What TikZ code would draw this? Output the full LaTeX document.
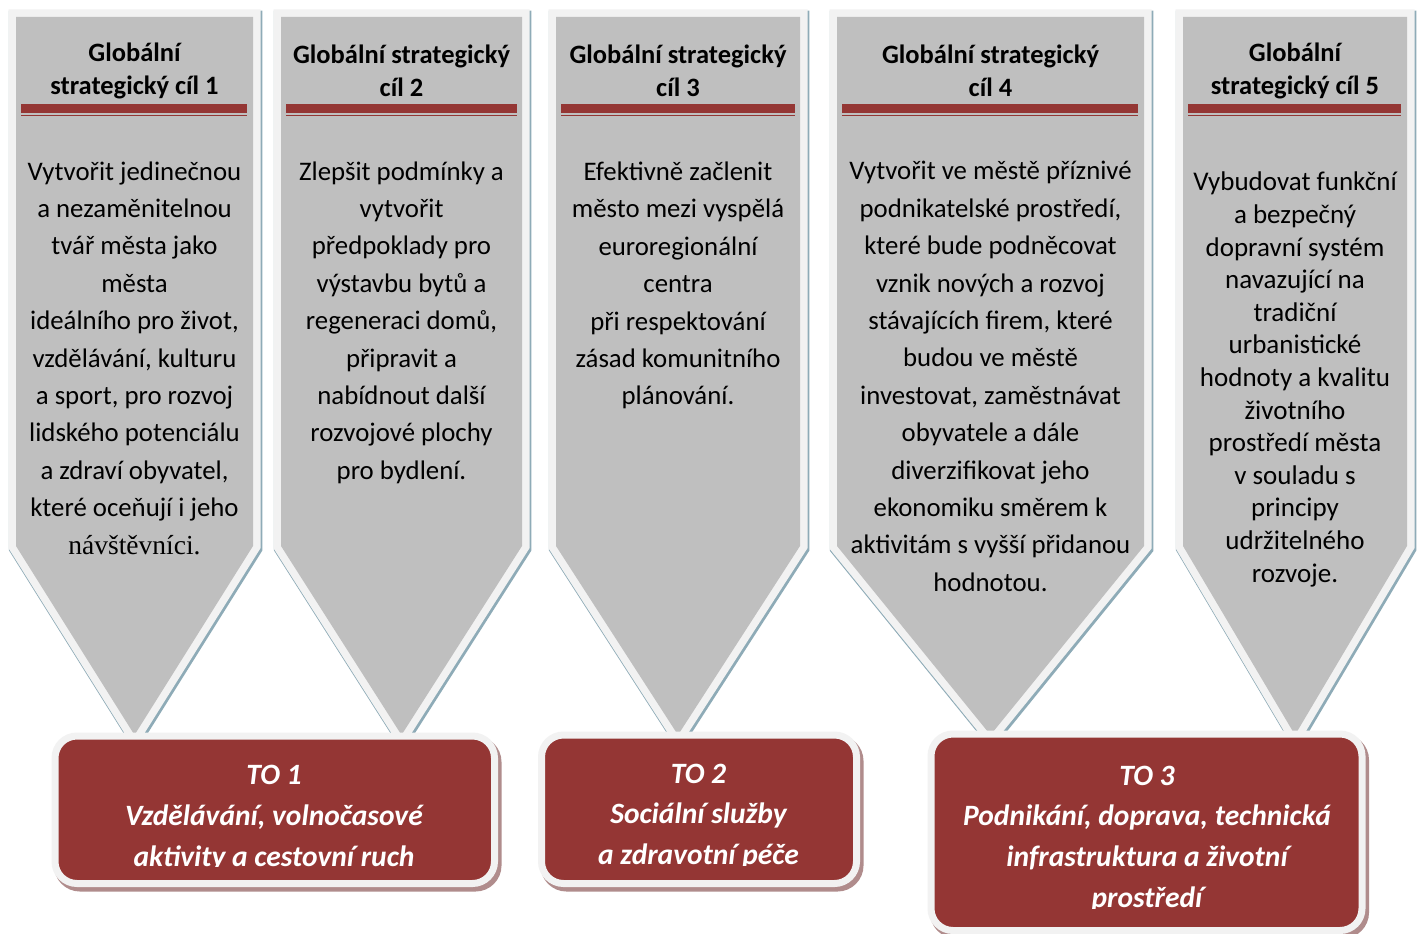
\documentclass[tikz,border=0pt]{standalone}
\usepackage{fontspec}
\setmainfont{Carlito}
\newfontfamily\serifcam{Liberation Serif}
\definecolor{redc}{HTML}{943634}
\definecolor{grayfill}{HTML}{BFBFBF}
\definecolor{rim}{HTML}{F2F2F2}
\definecolor{shadowblue}{HTML}{8EABB7}
\definecolor{shadowred}{HTML}{B08C8C}
\tikzset{
  goalshadow/.style={draw=shadowblue, line width=16.5pt, line join=miter, miter limit=20},
  goalrim/.style={draw=rim, line width=15pt, line join=miter, miter limit=20},
  goalfill/.style={fill=grayfill},
  titlebar/.style={fill=redc},
  titlethin/.style={draw=redc, line width=1.6pt},
  titletext/.style={align=center, inner sep=0pt, font=\fontsize{26.5}{33}\selectfont\bfseries},
  bodytext/.style={align=center, inner sep=0pt, font=\fontsize{26.8}{37.4}\selectfont},
  bodytextb/.style={align=center, inner sep=0pt, font=\fontsize{27}{32.6}\selectfont},
  toshadow/.style={draw=shadowred, line width=8pt, rounded corners=22pt},
  tobox/.style={draw=rim, line width=7pt, fill=redc, rounded corners=22pt},
  totext/.style={align=center, inner sep=0pt, text=white, font=\fontsize{29.5}{40.8}\selectfont\bfseries\itshape},
}
\begin{document}
\begin{tikzpicture}[x=1pt,y=-1pt]
\useasboundingbox (0,0) rectangle (1422,934);
\fill[white] (0,0) rectangle (1422,934);

% ---- goal shapes: L, R, shoulder 546, tip 735
% shape 1
\draw[goalshadow, shift={(1.2,2)}] (16,17) -- (253,17) -- (253,546) -- (134.5,735) -- (16,546) -- cycle;
\draw[goalrim] (16,17) -- (253,17) -- (253,546) -- (134.5,735) -- (16,546) -- cycle;
\fill[goalfill] (16,17) -- (253,17) -- (253,546) -- (134.5,735) -- (16,546) -- cycle;
% shape 2
\draw[goalshadow, shift={(1.2,2)}] (281,17) -- (522,17) -- (522,546) -- (401.5,735) -- (281,546) -- cycle;
\draw[goalrim] (281,17) -- (522,17) -- (522,546) -- (401.5,735) -- (281,546) -- cycle;
\fill[goalfill] (281,17) -- (522,17) -- (522,546) -- (401.5,735) -- (281,546) -- cycle;
% shape 3
\draw[goalshadow, shift={(1.2,2)}] (556,17) -- (800,17) -- (800,546) -- (678,735) -- (556,546) -- cycle;
\draw[goalrim] (556,17) -- (800,17) -- (800,546) -- (678,735) -- (556,546) -- cycle;
\fill[goalfill] (556,17) -- (800,17) -- (800,546) -- (678,735) -- (556,546) -- cycle;
% shape 4
\draw[goalshadow, shift={(1.2,2)}] (837,17) -- (1144,17) -- (1144,546) -- (990.5,735) -- (837,546) -- cycle;
\draw[goalrim] (837,17) -- (1144,17) -- (1144,546) -- (990.5,735) -- (837,546) -- cycle;
\fill[goalfill] (837,17) -- (1144,17) -- (1144,546) -- (990.5,735) -- (837,546) -- cycle;
% shape 5
\draw[goalshadow, shift={(1.2,2)}] (1183,17) -- (1407,17) -- (1407,546) -- (1295,735) -- (1183,546) -- cycle;
\draw[goalrim] (1183,17) -- (1407,17) -- (1407,546) -- (1295,735) -- (1183,546) -- cycle;
\fill[goalfill] (1183,17) -- (1407,17) -- (1407,546) -- (1295,735) -- (1183,546) -- cycle;

% ---- title bars
\fill[titlebar] (21,104) rectangle (247,112.5);
\draw[titlethin] (21,115.5) -- (247,115.5);
\fill[titlebar] (286,104) rectangle (517,112.5);
\draw[titlethin] (286,115.5) -- (517,115.5);
\fill[titlebar] (561,104) rectangle (795,112.5);
\draw[titlethin] (561,115.5) -- (795,115.5);
\fill[titlebar] (842,104) rectangle (1138,112.5);
\draw[titlethin] (842,115.5) -- (1138,115.5);
\fill[titlebar] (1188,104) rectangle (1401,112.5);
\draw[titlethin] (1188,115.5) -- (1401,115.5);

% ---- titles
\node[titletext] (t1) at (134.5,70.5) {Globální\\strategický cíl 1};
\node[titletext] (t2) at (401.5,70.5) {Globální strategický\\cíl 2};
\node[titletext] (t3) at (678,70.5) {Globální strategický\\cíl 3};
\node[titletext] (t4) at (990.5,70.5) {Globální strategický\\cíl 4};
\node[titletext] (t5) at (1295,70.5) {Globální\\strategický cíl 5};

% ---- bodies
\node[bodytext] (b1) at (134.5,358) {Vytvořit jedinečnou\\a nezaměnitelnou\\tvář města jako\\města\\ideálního pro život,\\vzdělávání, kulturu\\a sport, pro rozvoj\\lidského potenciálu\\a zdraví obyvatel,\\které oceňují i jeho\\{\serifcam\fontsize{27.5}{37.4}\selectfont návštěvníci.}};
\node[bodytext] (b2) at (401.5,322.5) {Zlepšit podmínky a\\vytvořit\\předpoklady pro\\výstavbu bytů a\\regeneraci domů,\\připravit a\\nabídnout další\\rozvojové plochy\\pro bydlení.};
\node[bodytext] (b3) at (678,285.5) {Efektivně začlenit\\město mezi vyspělá\\euroregionální\\centra\\při respektování\\zásad komunitního\\plánování.};
\node[bodytext] (b4) at (990.5,376.5) {Vytvořit ve městě příznivé\\podnikatelské prostředí,\\které bude podněcovat\\vznik nových a rozvoj\\stávajících firem, které\\budou ve městě\\investovat, zaměstnávat\\obyvatele a dále\\diverzifikovat jeho\\ekonomiku směrem k\\aktivitám s vyšší přidanou\\hodnotou.};
\node[bodytextb] (b5) at (1295,379.5) {Vybudovat funkční\\a bezpečný\\dopravní systém\\navazující na\\tradiční\\urbanistické\\hodnoty a kvalitu\\životního\\prostředí města\\v souladu s\\principy\\udržitelného\\rozvoje.};

% ---- TO boxes
\draw[toshadow, shift={(3,4)}] (55,736) rectangle (494.5,883.5);
\draw[tobox] (55,736) rectangle (494.5,883.5);
\draw[toshadow, shift={(3,4)}] (541.5,735) rectangle (856.5,883.5);
\draw[tobox] (541.5,735) rectangle (856.5,883.5);
\draw[toshadow, shift={(3,4)}] (931,734) rectangle (1362,930.5);
\draw[tobox] (931,734) rectangle (1362,930.5);

\begin{scope}
\clip (60,742) rectangle (490,866.5);
\node[totext] (to1) at (274,818) {TO 1\\Vzdělávání, volnočasové\\aktivity a cestovní ruch};
\end{scope}
\begin{scope}
\clip (547,742) rectangle (852,865);
\node[totext] (to2) at (698.5,816.5) {TO 2\\Sociální služby\\a zdravotní péče};
\end{scope}
\begin{scope}
\clip (937,742) rectangle (1357,908);
\node[totext] (to3) at (1147,839) {TO 3\\Podnikání, doprava, technická\\infrastruktura a životní\\prostředí};
\end{scope}
\end{tikzpicture}
\end{document}
